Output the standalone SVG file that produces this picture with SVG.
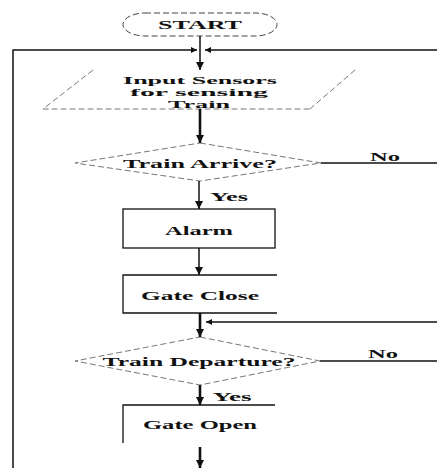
<svg xmlns="http://www.w3.org/2000/svg" width="437" height="468" viewBox="0 0 437 468">
<defs>
<marker id="ah" viewBox="0 0 10 10" refX="10" refY="5" markerWidth="8" markerHeight="8" markerUnits="userSpaceOnUse" orient="auto"><path d="M0,0 L10,5 L0,10 z" fill="#111"/></marker>
<marker id="ahs" viewBox="0 0 10 10" refX="10" refY="5" markerWidth="7" markerHeight="6" markerUnits="userSpaceOnUse" orient="auto"><path d="M0,0 L10,5 L0,10 z" fill="#111"/></marker>
</defs>
<style>
text{font-family:"Liberation Serif","Times New Roman",serif;font-weight:bold;fill:#111;text-anchor:middle;dominant-baseline:central}
.t{font-size:13.5px}
.p{font-size:11px}
.s{font-size:12px}
.dash{fill:none;stroke:#777;stroke-width:1;stroke-dasharray:6 3}
.box{fill:none;stroke:#111;stroke-width:1.3}
.ln{fill:none;stroke:#111;stroke-width:1.5}
.thk{fill:none;stroke:#111;stroke-width:2.6}
</style>
<rect width="437" height="468" fill="#fff"/>
<g id="start">
<rect class="dash" x="123" y="13" width="154" height="23" rx="22" ry="11.5" style="stroke:#444"/>
<text class="s" x="200" y="24.5" textLength="84" lengthAdjust="spacingAndGlyphs">START</text>
</g>
<g id="input">
<path class="dash" d="M93,70 L43,109 L310,109 M355,70 L310,109"/>
<text class="p" x="200" y="80" textLength="154" lengthAdjust="spacingAndGlyphs">Input Sensors</text>
<text class="p" x="199" y="92" textLength="138" lengthAdjust="spacingAndGlyphs">for sensing</text>
<text class="p" x="199" y="103.5" textLength="62" lengthAdjust="spacingAndGlyphs">Train</text>
</g>
<g id="arrive">
<polygon class="dash" points="200,143 321,163 200,181 75,163"/>
<text class="t" x="200" y="163" textLength="154" lengthAdjust="spacingAndGlyphs">Train Arrive?</text>
</g>
<g id="alarm">
<rect class="box" x="123" y="209" width="152" height="39"/>
<text class="t" x="199" y="230" textLength="68" lengthAdjust="spacingAndGlyphs">Alarm</text>
</g>
<g id="gateclose">
<path class="box" d="M277,275 H123 V313 H277"/>
<text class="t" x="200" y="295" textLength="118" lengthAdjust="spacingAndGlyphs">Gate Close</text>
</g>
<g id="departure">
<polygon class="dash" points="200,337 320,361 200,385 75,361"/>
<text class="t" x="199" y="361" textLength="193" lengthAdjust="spacingAndGlyphs">Train Departure?</text>
</g>
<g id="gateopen">
<path class="box" d="M275,405 H123 V443"/>
<text class="t" x="200" y="424" textLength="114" lengthAdjust="spacingAndGlyphs">Gate Open</text>
</g>
<g id="connectors">
<path class="ln" d="M13,468 V50 H197" marker-end="url(#ahs)"/>
<path class="ln" d="M437,50 H205" marker-end="url(#ahs)"/>
<path class="ln" d="M200,36 V70" marker-end="url(#ah)"/>
<path class="thk" d="M200,109 V143" marker-end="url(#ah)"/>
<path class="ln" d="M321,163 H437"/>
<text class="s" x="385" y="157" textLength="30" lengthAdjust="spacingAndGlyphs">No</text>
<path class="ln" d="M199,181 V209" marker-end="url(#ah)"/>
<text class="s" x="229" y="197" textLength="38" lengthAdjust="spacingAndGlyphs">Yes</text>
<path class="ln" d="M199,248 V275" marker-end="url(#ah)"/>
<path class="thk" d="M200,313 V337" marker-end="url(#ah)"/>
<path class="ln" d="M437,322 H206" marker-end="url(#ahs)"/>
<path class="ln" d="M320,361 H437"/>
<text class="s" x="383" y="354" textLength="30" lengthAdjust="spacingAndGlyphs">No</text>
<path class="thk" d="M200,385 V405" marker-end="url(#ah)"/>
<text class="s" x="232" y="397" textLength="39" lengthAdjust="spacingAndGlyphs">Yes</text>
<path class="thk" d="M200,447 V468" marker-end="url(#ah)"/>
</g>
</svg>
